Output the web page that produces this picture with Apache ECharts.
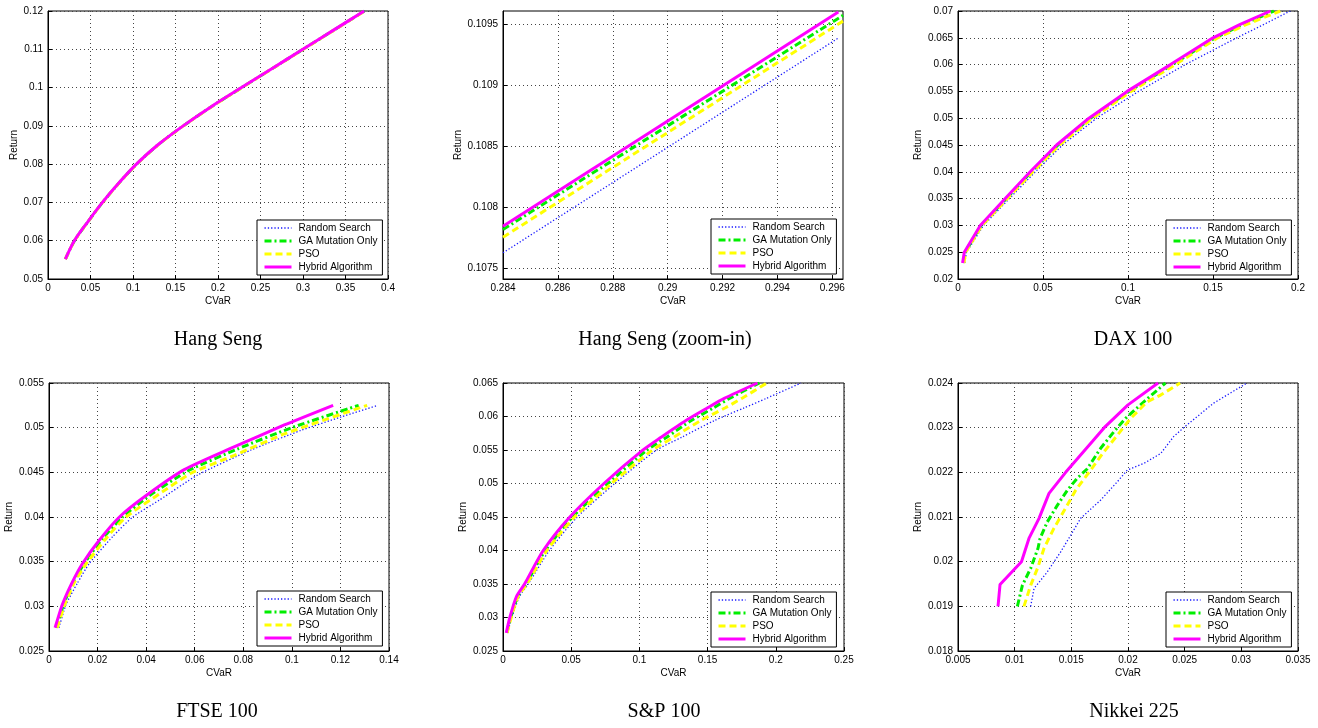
<!DOCTYPE html>
<html><head><meta charset="utf-8">
<script src="https://cdn.jsdelivr.net/npm/echarts@6/dist/echarts.min.js"></script>
<style>html,body{margin:0;padding:0;background:#fff}#c{width:1318px;height:728px}</style>
</head><body><div id="c"></div>
<script>
// ---------------- DATA ----------------
const seriesNames = ['Random Search', 'GA Mutation Only', 'PSO', 'Hybrid Algorithm'];
const panelTitles = ['Hang Seng', 'Hang Seng (zoom-in)', 'DAX 100', 'FTSE 100', 'S&P 100', 'Nikkei 225'];

// Hang Seng
const hsReturn = [0.0552, 0.06, 0.065, 0.07, 0.075, 0.08, 0.085, 0.09, 0.095, 0.1, 0.105, 0.11, 0.115, 0.12];
const hsCvarRandom = [0.0206, 0.0313, 0.0473, 0.0644, 0.0834, 0.1045, 0.1296, 0.1596, 0.1928, 0.2284, 0.2645, 0.3008, 0.3368, 0.3728];
const hsCvarGA     = [0.0205, 0.0311, 0.0471, 0.0642, 0.0832, 0.1042, 0.1292, 0.1591, 0.1922, 0.2279, 0.2640, 0.3001, 0.3362, 0.3722];
const hsCvarPSO    = [0.0205, 0.0312, 0.0472, 0.0643, 0.0833, 0.1043, 0.1294, 0.1593, 0.1925, 0.2281, 0.2642, 0.3004, 0.3365, 0.3725];
const hsCvarHybrid = [0.0204, 0.031, 0.047, 0.064, 0.083, 0.104, 0.129, 0.159, 0.192, 0.2276, 0.2637, 0.2998, 0.3359, 0.372];

// Hang Seng (zoom-in)
const hszCvarRandom = [0.284, 0.29624];
const hszRetRandom  = [0.107625, 0.109391];
const hszCvarGA     = [0.284, 0.29639];
const hszRetGA      = [0.107816, 0.109574];
const hszCvarPSO    = [0.284, 0.29639];
const hszRetPSO     = [0.107753, 0.109527];
const hszCvarHybrid = [0.284, 0.29622];
const hszRetHybrid  = [0.107843, 0.109601];
const hszXTicks = [0.284, 0.286, 0.288, 0.29, 0.292, 0.294, 0.296];
const hszYTicks = [0.1075, 0.108, 0.1085, 0.109, 0.1095];

// DAX 100
const daxReturn = [0.023, 0.025, 0.03, 0.035, 0.04, 0.045, 0.05, 0.055, 0.06, 0.065, 0.0675, 0.07];
const daxCvarRandom = [0.004, 0.005, 0.015, 0.0302, 0.0455, 0.0615, 0.0815, 0.1062, 0.1337, 0.164, 0.18, 0.1955];
const daxCvarGA     = [0.0031, 0.0041, 0.0136, 0.0284, 0.0432, 0.0588, 0.0779, 0.1005, 0.1262, 0.1513, 0.1675, 0.1858];
const daxCvarPSO    = [0.0035, 0.0045, 0.0141, 0.029, 0.044, 0.0597, 0.079, 0.1018, 0.1278, 0.1528, 0.1698, 0.1896];
const daxCvarHybrid = [0.0027, 0.0037, 0.0131, 0.0278, 0.0425, 0.058, 0.077, 0.0995, 0.125, 0.15, 0.166, 0.1838];

// FTSE 100
const ftCvarHybrid = [0.0025, 0.0055, 0.0094, 0.0138, 0.0207, 0.029, 0.04, 0.0557, 0.075, 0.0969, 0.117];
const ftRetHybrid  = [0.0276, 0.0302, 0.0326, 0.0348, 0.0374, 0.04, 0.0424, 0.0453, 0.0477, 0.0503, 0.0525];
const ftCvarGA     = [0.003, 0.006, 0.0097, 0.0145, 0.0221, 0.0303, 0.0414, 0.0575, 0.0775, 0.1, 0.1275];
const ftRetGA      = [0.0276, 0.0302, 0.0326, 0.0348, 0.0376, 0.04, 0.0424, 0.0452, 0.0476, 0.05, 0.0525];
const ftCvarPSO    = [0.0034, 0.0065, 0.0103, 0.0154, 0.0241, 0.0317, 0.0455, 0.0585, 0.0763, 0.0969, 0.131];
const ftRetPSO     = [0.0276, 0.0302, 0.0326, 0.0348, 0.0378, 0.04, 0.0426, 0.0449, 0.0469, 0.0493, 0.0525];
const ftCvarRandom = [0.0041, 0.007, 0.0117, 0.0166, 0.0262, 0.0345, 0.0455, 0.0612, 0.0832, 0.1038, 0.1203, 0.1354];
const ftRetRandom  = [0.0276, 0.0302, 0.0326, 0.0348, 0.0378, 0.04, 0.0419, 0.0447, 0.0475, 0.0497, 0.0512, 0.0525];

// S&P 100
const spReturn = [0.0277, 0.03, 0.0331, 0.035, 0.04, 0.045, 0.05, 0.0549, 0.0569, 0.0594, 0.0613, 0.0627, 0.065];
const spCvarHybrid = [0.0024, 0.005, 0.0098, 0.0158, 0.0295, 0.049, 0.074, 0.102, 0.1159, 0.1341, 0.15, 0.1622, 0.1866];
const spCvarGA     = [0.0028, 0.0056, 0.0106, 0.0168, 0.031, 0.051, 0.077, 0.105, 0.12, 0.138, 0.1545, 0.166, 0.188];
const spCvarPSO    = [0.003, 0.006, 0.011, 0.0175, 0.0322, 0.0525, 0.0795, 0.109, 0.125, 0.145, 0.163, 0.175, 0.1935];
const spCvarRandom = [0.0033, 0.0065, 0.012, 0.0185, 0.034, 0.0545, 0.082, 0.112, 0.131, 0.155, 0.177, 0.193, 0.2185];

// Nikkei 225
const nkCvarHybrid = [0.00853, 0.00871, 0.0106, 0.01126, 0.01215, 0.01303, 0.0145, 0.01685, 0.0179, 0.02, 0.02265];
const nkRetHybrid  = [0.019, 0.01949, 0.02, 0.02052, 0.02097, 0.02153, 0.022, 0.02269, 0.023, 0.02351, 0.024];
const nkCvarGA     = [0.01024, 0.01068, 0.01141, 0.01206, 0.01224, 0.01288, 0.01376, 0.01465, 0.01553, 0.01641, 0.01759, 0.01876, 0.01979, 0.0214, 0.0233];
const nkRetGA      = [0.019, 0.01947, 0.01985, 0.0203, 0.02052, 0.02089, 0.02126, 0.0216, 0.02187, 0.02208, 0.02254, 0.02291, 0.02321, 0.02358, 0.024];
const nkCvarPSO    = [0.01082, 0.01141, 0.01206, 0.01259, 0.01347, 0.0145, 0.01538, 0.0167, 0.01788, 0.01906, 0.02024, 0.0217, 0.02288, 0.0246];
const nkRetPSO     = [0.019, 0.01947, 0.01988, 0.0203, 0.02075, 0.0212, 0.0216, 0.02205, 0.02246, 0.02283, 0.02321, 0.02358, 0.02373, 0.024];
const nkCvarRandom = [0.01141, 0.01171, 0.01288, 0.01406, 0.01494, 0.01582, 0.01759, 0.01906, 0.01994, 0.0214, 0.02288, 0.02403, 0.02491, 0.02756, 0.0305];
const nkRetRandom  = [0.019, 0.0194, 0.01977, 0.02022, 0.02059, 0.02097, 0.02138, 0.02179, 0.02205, 0.0222, 0.02242, 0.0228, 0.023, 0.02355, 0.024];

// ---------------- BUILD ----------------
const zip = (xs, ys) => xs.map((x, i) => [x, ys[i]]);
const panelData = [
  [zip(hsCvarRandom, hsReturn), zip(hsCvarGA, hsReturn), zip(hsCvarPSO, hsReturn), zip(hsCvarHybrid, hsReturn)],
  [zip(hszCvarRandom, hszRetRandom), zip(hszCvarGA, hszRetGA), zip(hszCvarPSO, hszRetPSO), zip(hszCvarHybrid, hszRetHybrid)],
  [zip(daxCvarRandom, daxReturn), zip(daxCvarGA, daxReturn), zip(daxCvarPSO, daxReturn), zip(daxCvarHybrid, daxReturn)],
  [zip(ftCvarRandom, ftRetRandom), zip(ftCvarGA, ftRetGA), zip(ftCvarPSO, ftRetPSO), zip(ftCvarHybrid, ftRetHybrid)],
  [zip(spCvarRandom, spReturn), zip(spCvarGA, spReturn), zip(spCvarPSO, spReturn), zip(spCvarHybrid, spReturn)],
  [zip(nkCvarRandom, nkRetRandom), zip(nkCvarGA, nkRetGA), zip(nkCvarPSO, nkRetPSO), zip(nkCvarHybrid, nkRetHybrid)]
];

// layout (pixels)
const grids = [
  {left: 48, top: 11, width: 340, height: 268},
  {left: 503, top: 11, width: 340, height: 268},
  {left: 958, top: 11, width: 340, height: 268},
  {left: 49, top: 383, width: 340, height: 268},
  {left: 503, top: 383, width: 341, height: 268},
  {left: 958, top: 383, width: 340, height: 268}
];
const smoothing = [0.3, 0, 0, 0.2, 0.25, 0];
const xScales = [
  {min: 0, max: 0.4, interval: 0.05},
  {min: 0.284, max: 0.29639, custom: hszXTicks},
  {min: 0, max: 0.2, interval: 0.05},
  {min: 0, max: 0.14, interval: 0.02},
  {min: 0, max: 0.25, interval: 0.05},
  {min: 0.005, max: 0.035, interval: 0.005}
];
const yScales = [
  {min: 0.05, max: 0.12, interval: 0.01},
  {min: 0.10741, max: 0.10961, custom: hszYTicks},
  {min: 0.02, max: 0.07, interval: 0.005},
  {min: 0.025, max: 0.055, interval: 0.005},
  {min: 0.025, max: 0.065, interval: 0.005},
  {min: 0.018, max: 0.024, interval: 0.001}
];
const yNameGaps = [29, 39, 35, 35, 35, 35];
const legendPos = [[257, 220], [711, 219], [1166, 220], [257, 591], [711, 592], [1166, 592]];
const captionPos = [[218, 340], [665, 340], [1133, 340], [217, 712], [664, 712], [1134, 712]];

const styles = [
  {color: '#1a1aff', width: 1.3, type: [1.3, 2]},
  {color: '#00ee00', width: 3, type: [7, 3, 2, 3]},
  {color: '#ffff00', width: 3, type: [7, 4]},
  {color: '#ff00ff', width: 3, type: 'solid'}
];

const fmt = v => String(+(+v).toFixed(6));
const sans = 'Liberation Sans, Arial, sans-serif';

const xAxis = [], yAxis = [], series = [], legend = [];
grids.forEach((g, i) => {
  const xs = xScales[i], ys = yScales[i];
  const xa = {
    type: 'value', gridIndex: i, min: xs.min, max: xs.max,
    name: 'CVaR', nameLocation: 'middle', nameGap: 17,
    nameTextStyle: {fontSize: 10, color: '#000', fontFamily: sans},
    axisLine: {show: true, onZero: false, lineStyle: {color: '#000', width: 1}},
    axisTick: {show: true, inside: true, length: 4, lineStyle: {color: '#000'}},
    axisLabel: {fontSize: 10, color: '#000', margin: 4, fontFamily: sans, formatter: fmt},
    splitLine: {show: true, lineStyle: {color: '#444', type: [1, 3], width: 1}}
  };
  if (xs.custom) { xa.axisLabel.customValues = xs.custom; xa.axisTick.customValues = xs.custom; }
  else xa.interval = xs.interval;
  const ya = {
    type: 'value', gridIndex: i, min: ys.min, max: ys.max,
    name: 'Return', nameLocation: 'middle', nameGap: yNameGaps[i],
    nameTextStyle: {fontSize: 10, color: '#000', fontFamily: sans},
    axisLine: {show: true, onZero: false, lineStyle: {color: '#000', width: 1}},
    axisTick: {show: true, inside: true, length: 4, lineStyle: {color: '#000'}},
    axisLabel: {fontSize: 10, color: '#000', margin: 5, fontFamily: sans, formatter: fmt},
    splitLine: {show: true, lineStyle: {color: '#444', type: [1, 3], width: 1}}
  };
  if (ys.custom) { ya.axisLabel.customValues = ys.custom; ya.axisTick.customValues = ys.custom; }
  else ya.interval = ys.interval;
  xAxis.push(xa); yAxis.push(ya);
  seriesNames.forEach((n, k) => {
    series.push({
      type: 'line', name: n, xAxisIndex: i, yAxisIndex: i, data: panelData[i][k],
      symbol: 'none', showSymbol: false, clip: true, animation: false, z: 2 + k,
      smooth: smoothing[i] || false,
      lineStyle: {color: styles[k].color, width: styles[k].width, type: styles[k].type},
      itemStyle: {color: styles[k].color}
    });
  });
  legend.push({
    orient: 'vertical', left: legendPos[i][0], top: legendPos[i][1],
    itemWidth: 27, itemHeight: 10, itemGap: 3, padding: [3, 5, 3, 6],
    backgroundColor: '#fff', borderColor: '#000', borderWidth: 1, borderRadius: 0,
    selectedMode: false, z: 20,
    textStyle: {fontSize: 10, color: '#000', fontFamily: sans, padding: [0, 0, 0, 2]},
    data: seriesNames.map((n, k) => ({
      name: n,
      lineStyle: {color: styles[k].color, width: styles[k].width, type: styles[k].type},
      itemStyle: {color: styles[k].color, opacity: 0}
    }))
  });
});

const graphic = panelTitles.map((t, i) => ({
  type: 'text', x: captionPos[i][0], y: captionPos[i][1], z: 30,
  style: {text: t, fill: '#000', fontSize: 20, fontFamily: 'Liberation Serif, Times New Roman, serif',
          align: 'center', verticalAlign: 'middle', textAlign: 'center', textVerticalAlign: 'middle'}
}));

const chart = echarts.init(document.getElementById('c'), null, {renderer: 'canvas'});
chart.setOption({
  animation: false,
  backgroundColor: '#fff',
  grid: grids.map(g => Object.assign({show: true, borderColor: '#000', borderWidth: 1, backgroundColor: 'transparent', containLabel: false}, g)),
  xAxis, yAxis, series, legend, graphic
});
</script>
</body></html>
